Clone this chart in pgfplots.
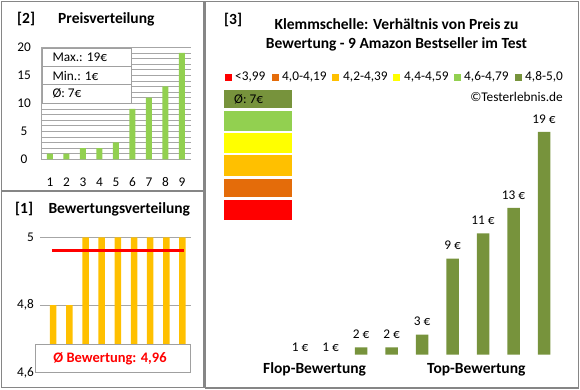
\documentclass[border=0pt]{standalone}
\usepackage{fontspec}
\setmainfont{Carlito}
\usepackage{pgfplots}
\pgfplotsset{compat=1.18}
\definecolor{cRed}{HTML}{FF0000}
\definecolor{cOrange}{HTML}{E46C0A}
\definecolor{cAmber}{HTML}{FFC000}
\definecolor{cYellow}{HTML}{FFFF00}
\definecolor{cLGreen}{HTML}{92D050}
\definecolor{cOlive}{HTML}{77933C}
\definecolor{frameC}{HTML}{868686}
\definecolor{gridC}{HTML}{A6A6A6}
\definecolor{boxC}{HTML}{A0A0A0}
\newcommand\fn{\fontsize{13.3}{16}\selectfont}
\newcommand\fb{\fontsize{15.5}{18}\selectfont\bfseries}
\pgfplotstableread{
x y
1 1
2 1
3 2
4 2
5 3
6 9
7 11
8 13
9 19
}\prices
\begin{document}
\begin{tikzpicture}[x=1pt,y=1pt]
\path (0,0) rectangle (580,390);
% frames
\draw[frameC, line width=1.2pt] (1.5,{390-1.5}) rectangle (204,{390-191});
\draw[frameC, line width=1.2pt] (1.5,{390-191}) rectangle (204,{390-387.5});
\draw[frameC, line width=1.2pt] (205.5,{390-1.5}) rectangle (578.5,{390-388});

% ---------- Axis [2] Preisverteilung
\begin{axis}[at={(41pt,230.7pt)}, anchor=south west, scale only axis,
  width=149.7pt, height=112pt, xmin=0.455, xmax=9.53, ymin=0, ymax=20,
  ytick={0,5,...,20}, minor ytick={0,1,...,20}, xtick={1,...,9},
  ymajorgrids, yminorgrids,
  major grid style={gridC, line width=0.6pt}, minor grid style={gridC, line width=0.6pt},
  axis x line*=bottom, axis y line*=left, axis line style={gridC,-},
  major tick length=0pt, minor tick length=0pt,
  tick label style={font=\fn, /pgf/number format/assume math mode=true},
  xticklabel style={anchor=center, yshift=-22.7pt},
  yticklabel style={anchor=center, xshift=-17pt}]
\addplot[ybar, bar width=6pt, fill=cLGreen, draw=none] table[x=x,y=y] {\prices};
\end{axis}
\draw[boxC, fill=white, line width=0.8pt] (42,{390-48}) rectangle (131,{390-103});
\draw[boxC, line width=0.8pt] (42,{390-66}) -- (131,{390-66});
\draw[boxC, line width=0.8pt] (42,{390-84}) -- (131,{390-84});
\node[anchor=base west, inner sep=0, font=\fn] at (52.3,{390-62}) {Max.: 19€};
\node[anchor=base west, inner sep=0, font=\fn] at (52.3,{390-80.7}) {Min.: 1€};
\node[anchor=base west, inner sep=0, font=\fn] at (52.3,{390-97.7}) {Ø: 7€};
\node[anchor=base west, inner sep=0, font=\fb] at (17,{390-24}) {[2]};
\node[anchor=base west, inner sep=0, font=\fb] at (58,{390-24}) {Preisverteilung};

% ---------- Axis [1] Bewertungsverteilung
\begin{axis}[at={(40pt,17.3pt)}, anchor=south west, scale only axis,
  width=150.7pt, height=135.4pt, xmin=0.18, xmax=9.51, ymin=4.6, ymax=5,
  ytick={4.6,4.8,5}, yticklabels={{4,6},{4,8},{5}}, xtick=\empty,
  ymajorgrids, major grid style={gridC, line width=0.8pt},
  axis line style={draw=none}, major tick length=0pt,
  tick label style={font=\fn},
  yticklabel style={anchor=east, xshift=-2.5pt}]
\addplot[ybar, bar width=6.5pt, fill=cAmber, draw=none] coordinates {(1,4.8)(2,4.8)(3,5)(4,5)(5,5)(6,5)(7,5)(8,5)(9,5)};
\addplot[cRed, line width=3pt] coordinates {(0.92,4.96)(9.09,4.96)};
\end{axis}
\draw[boxC, fill=white, line width=0.8pt] (35,{390-344}) rectangle (190,{390-372.7});
\node[anchor=base, inner sep=0, font=\fontsize{14.5}{17}\selectfont\bfseries, text=cRed] at (110,{390-362.3}) {Ø Bewertung: 4,96};
\node[anchor=base west, inner sep=0, font=\fb] at (15,{390-213.5}) {[1]};
\node[anchor=base west, inner sep=0, font=\fb] at (48.3,{390-213.5}) {Bewertungsverteilung};

% ---------- Axis [3] main: bars
\begin{axis}[at={(239pt,35.3pt)}, anchor=south west, scale only axis,
  width=335.5pt, height=286.1pt, xmin=-1, xmax=10, ymin=1.42, ymax=24,
  axis lines=none, ticks=none]
\addplot[ybar, bar width=12.5pt, fill=cOlive, draw=none, restrict y to domain=1.42:100]
  table[x=x,y=y] {\prices};
\end{axis}
% ---------- Axis [3] main: value labels (same geometry, unclipped)
\begin{axis}[at={(239pt,35.3pt)}, anchor=south west, scale only axis,
  width=335.5pt, height=286.1pt, xmin=-1, xmax=10, ymin=1.42, ymax=24,
  axis lines=none, ticks=none, clip=false]
\addplot[draw=none, mark=none,
  nodes near coords={\pgfmathprintnumber[assume math mode=true]{\pgfplotspointmeta} €},
  nodes near coords style={anchor=center, yshift=13pt, font=\fn, text=black}]
  table[x=x,y=y] {\prices};
\end{axis}
\node[anchor=base west, inner sep=0, font=\fb] at (224,{390-25}) {[3]};
\node[anchor=base, inner sep=0, font=\fb] at (396.5,{390-29.3}) {Klemmschelle: Verhältnis von Preis zu};
\node[anchor=base, inner sep=0, font=\fb] at (396.5,{390-49}) {Bewertung - 9 Amazon Bestseller im Test};
% legend
\foreach \sx/\tx/\c/\t in {225/235/cRed/{<3,99}, 271.7/282/cOrange/{4,0-4,19}, 332.3/343/cAmber/{4,2-4,39}, 393.3/404/cYellow/{4,4-4,59}, 454/464/cLGreen/{4,6-4,79}, 515/525/cOlive/{4,8-5,0}}{
  \fill[\c] (\sx,{390-74}) rectangle ({\sx+7},{390-81});
  \node[anchor=base west, inner sep=0, font=\fn] at (\tx,{390-81}) {\t};
}
\node[anchor=base east, inner sep=0, font=\fn] at (563,{390-101.7}) {©Testerlebnis.de};
% colour blocks
\fill[cOlive] (224,{390-90}) rectangle (291.7,{390-108.5});
\fill[cLGreen] (224,{390-111}) rectangle (291.7,{390-131});
\fill[cYellow] (224,{390-133}) rectangle (291.7,{390-153});
\fill[cAmber] (224,{390-155}) rectangle (291.7,{390-176});
\fill[cOrange] (224,{390-179}) rectangle (291.7,{390-197.3});
\fill[cRed] (224,{390-200}) rectangle (291.7,{390-220});
\node[anchor=base west, inner sep=0, font=\fn] at (234,{390-103.5}) {Ø: 7€};
\node[anchor=base west, inner sep=0, font=\fb] at (263,{390-373.3}) {Flop-Bewertung};
\node[anchor=base west, inner sep=0, font=\fb] at (427,{390-373.3}) {Top-Bewertung};
\end{tikzpicture}
\end{document}
